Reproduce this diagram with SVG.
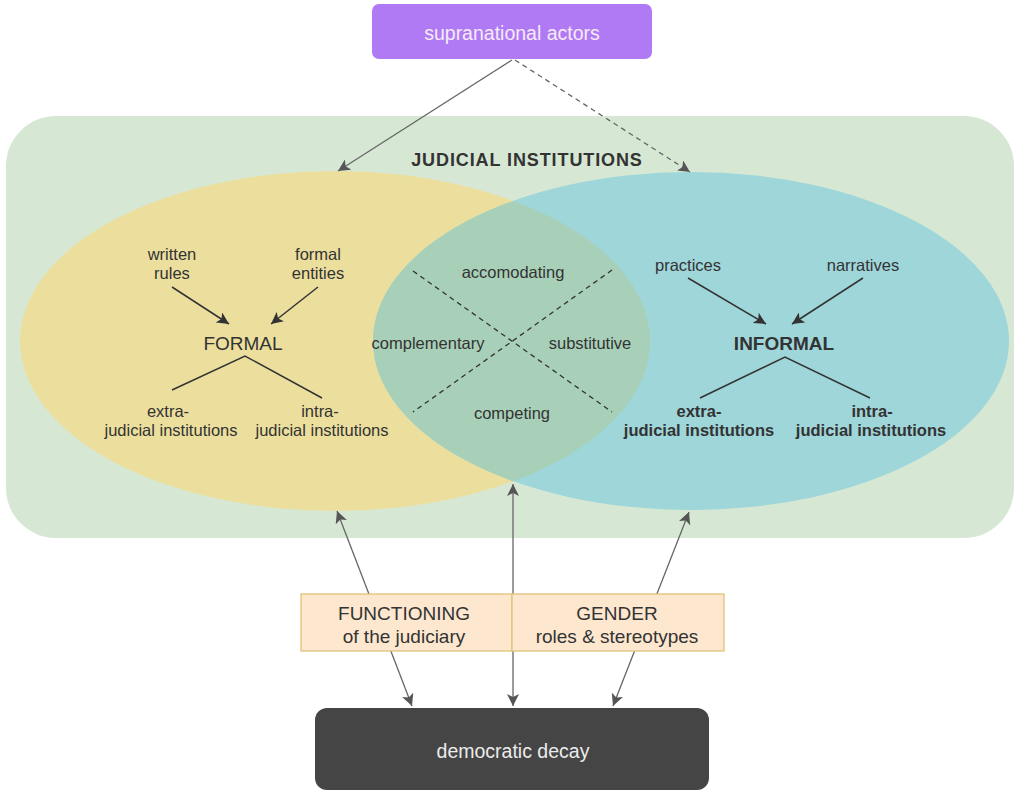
<svg xmlns="http://www.w3.org/2000/svg" width="1018" height="792" viewBox="0 0 1018 792">
<style>
.t{font-family:"Liberation Sans",Arial,sans-serif;text-anchor:middle;fill:#333333}
.s{font-size:16.5px}
.b{font-weight:bold}
.c{fill:none;stroke:#666666;stroke-width:1.3}
.k{fill:none;stroke:#333333;stroke-width:1.5}
</style>
<defs>
<marker id="ag" markerUnits="userSpaceOnUse" markerWidth="14" markerHeight="12" viewBox="0 0 14 12" refX="12" refY="6" orient="auto-start-reverse">
<path d="M0,0 L12,6 L0,12 L3,6 Z" fill="#555555"/>
</marker>
<marker id="ak" markerUnits="userSpaceOnUse" markerWidth="14" markerHeight="12" viewBox="0 0 14 12" refX="12" refY="6" orient="auto">
<path d="M0,0 L12,6 L0,12 L3,6 Z" fill="#333333"/>
</marker>
<clipPath id="blueclip"><ellipse cx="691" cy="341" rx="318" ry="169"/></clipPath>
</defs>
<rect width="1018" height="792" fill="#ffffff"/>

<g id="judicial-institutions">
<rect x="6" y="116" width="1008" height="422" rx="50" ry="50" fill="#d6e8d4"/>
<text class="t b" x="527" y="166" font-size="18" letter-spacing="0.9">JUDICIAL INSTITUTIONS</text>
</g>

<g id="formal-ellipse">
<ellipse cx="335" cy="341" rx="315" ry="170" fill="#ecdf9e"/>
</g>
<g id="informal-ellipse">
<ellipse cx="691" cy="341" rx="318" ry="169" fill="#9fd6da"/>
<ellipse cx="335" cy="341" rx="315" ry="170" fill="#a8d0b8" clip-path="url(#blueclip)"/>
</g>

<g id="supranational-actors">
<rect x="372" y="4" width="280" height="55" rx="7" ry="7" fill="#b07af5"/>
<text class="t" x="512" y="40" font-size="19.5" style="fill:#f6eaf6">supranational actors</text>
</g>

<g id="connectors">
<line class="c" x1="512" y1="60" x2="338" y2="171" marker-end="url(#ag)"/>
<line class="c" x1="515" y1="60" x2="690" y2="172" stroke-dasharray="5,4" marker-end="url(#ag)"/>
<line class="k" x1="172" y1="287" x2="229" y2="324" marker-end="url(#ak)"/>
<line class="k" x1="318" y1="287" x2="271" y2="324" marker-end="url(#ak)"/>
<polyline class="k" points="172,390 245,356 322,398"/>
<line class="k" x1="688" y1="278" x2="766" y2="324" marker-end="url(#ak)"/>
<line class="k" x1="863" y1="278" x2="792" y2="324" marker-end="url(#ak)"/>
<polyline class="k" points="700,398 785,357 870,398"/>
<line stroke="#333333" stroke-width="1.3" stroke-dasharray="5,4" x1="413" y1="271" x2="612" y2="412"/>
<line stroke="#333333" stroke-width="1.3" stroke-dasharray="5,4" x1="612" y1="270" x2="413" y2="412"/>
<line class="c" x1="337" y1="511" x2="412" y2="706" marker-start="url(#ag)" marker-end="url(#ag)"/>
<line class="c" x1="513" y1="484" x2="513" y2="706" marker-start="url(#ag)" marker-end="url(#ag)"/>
<line class="c" x1="689" y1="512" x2="613" y2="706" marker-start="url(#ag)" marker-end="url(#ag)"/>
</g>

<g id="formal">
<text class="t s" x="172" y="260">written</text>
<text class="t s" x="172" y="279">rules</text>
<text class="t s" x="318" y="260">formal</text>
<text class="t s" x="318" y="279">entities</text>
<text class="t" x="243" y="350" font-size="19">FORMAL</text>
<text class="t s" x="168" y="417">extra-</text>
<text class="t s" x="171" y="436">judicial institutions</text>
<text class="t s" x="320" y="417">intra-</text>
<text class="t s" x="322" y="436">judicial institutions</text>
</g>

<g id="relations">
<text class="t s" x="513" y="278">accomodating</text>
<text class="t s" x="428" y="349">complementary</text>
<text class="t s" x="590" y="349">substitutive</text>
<text class="t s" x="512" y="419">competing</text>
</g>

<g id="informal">
<text class="t s" x="688" y="271">practices</text>
<text class="t s" x="863" y="271">narratives</text>
<text class="t b" x="784" y="350" font-size="19">INFORMAL</text>
<text class="t s b" x="699" y="417">extra-</text>
<text class="t s b" x="699" y="436">judicial institutions</text>
<text class="t s b" x="872" y="417">intra-</text>
<text class="t s b" x="871" y="436">judicial institutions</text>
</g>

<g id="functioning">
<rect x="301" y="594" width="211" height="57" fill="#fde7cf" stroke="#e0c478" stroke-width="1.3"/>
<text class="t" x="404" y="620" font-size="19">FUNCTIONING</text>
<text class="t" x="404" y="643" font-size="19">of the judiciary</text>
</g>
<g id="gender">
<rect x="512" y="594" width="212" height="57" fill="#fde7cf" stroke="#e0c478" stroke-width="1.3"/>
<text class="t" x="617" y="620" font-size="19">GENDER</text>
<text class="t" x="617" y="643" font-size="19">roles &amp; stereotypes</text>
</g>

<g id="democratic-decay">
<rect x="315" y="708" width="394" height="82" rx="12" ry="12" fill="#454545"/>
<text class="t" x="513" y="758" font-size="19.5" style="fill:#ececec">democratic decay</text>
</g>
</svg>
